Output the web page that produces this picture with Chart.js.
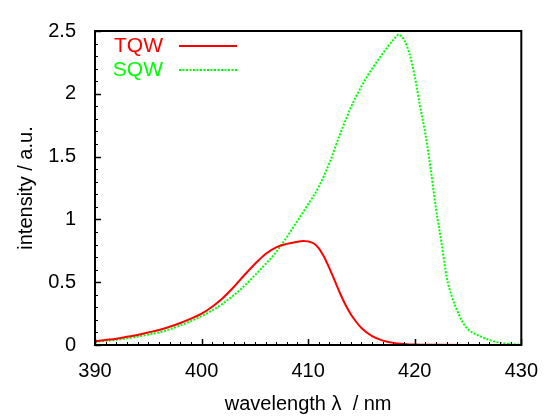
<!DOCTYPE html>
<html>
<head>
<meta charset="utf-8">
<script src="https://cdn.jsdelivr.net/npm/chart.js@4/dist/chart.umd.min.js"></script>
<style>
  html, body { margin: 0; padding: 0; background: #fff; }
  #wrap { width: 552px; height: 418px; }
</style>
</head>
<body>
<div id="wrap"><canvas id="spectrum"></canvas></div>
<script>
// wavelength (nm) and intensity
const tqwWavelength = [390, 391, 392, 393, 394, 395, 396, 397, 398, 399, 400, 401, 402, 403, 404, 405, 406, 407, 408, 409, 409.5, 410, 410.5, 411, 411.5, 412, 412.5, 413, 413.5, 414, 414.5, 415, 416, 417, 418, 419, 420, 422, 425, 430];
const tqwIntensity = [0.03, 0.04, 0.05, 0.065, 0.08, 0.10, 0.12, 0.145, 0.175, 0.21, 0.25, 0.305, 0.375, 0.46, 0.555, 0.645, 0.725, 0.778, 0.805, 0.822, 0.828, 0.825, 0.81, 0.77, 0.70, 0.61, 0.51, 0.41, 0.32, 0.245, 0.185, 0.135, 0.07, 0.035, 0.017, 0.008, 0.003, 0.001, 0, 0];

const sqwWavelength = [390, 391, 392, 393, 394, 395, 396, 397, 398, 399, 400, 401, 402, 403, 404, 405, 406, 407, 408, 409, 410, 411, 412, 413, 414, 415, 416, 417, 418, 418.5, 419, 419.5, 420, 420.5, 421, 421.5, 422, 422.5, 423, 423.5, 424, 424.5, 425, 426, 427, 428, 429, 430];
const sqwIntensity = [0.025, 0.033, 0.042, 0.053, 0.067, 0.083, 0.10, 0.125, 0.155, 0.19, 0.23, 0.275, 0.33, 0.395, 0.47, 0.555, 0.645, 0.74, 0.86, 0.99, 1.12, 1.26, 1.45, 1.68, 1.89, 2.06, 2.20, 2.32, 2.43, 2.47, 2.43, 2.32, 2.14, 1.90, 1.68, 1.40, 1.08, 0.82, 0.54, 0.38, 0.27, 0.18, 0.125, 0.075, 0.04, 0.018, 0.007, 0.002];

const xMin = 390, xMax = 430, xStep = 10, xMinor = 1;
const yMin = 0, yMax = 2.5, yStep = 0.5, yMinor = 0.1;

const FONT = 'Liberation Sans, Arial, sans-serif';

function toPoints(xs, ys) {
    return xs.map((x, i) => ({ x: x, y: ys[i] }));
}

// gnuplot style frame: box, inward major + minor ticks, key inside top-left
const framePlugin = {
    id: 'frame',
    afterDraw(chart) {
        const { ctx, chartArea: a, scales } = chart;
        ctx.save();
        ctx.strokeStyle = '#000';

        // minor ticks
        ctx.lineWidth = 1;
        ctx.beginPath();
        for (let v = xMin; v <= xMax + 1e-9; v += xMinor) {
            const px = Math.round(scales.x.getPixelForValue(v)) + 0.5;
            ctx.moveTo(px, a.bottom);
            ctx.lineTo(px, a.bottom - 3);
        }
        for (let v = yMin; v <= yMax + 1e-9; v += yMinor) {
            const py = Math.round(scales.y.getPixelForValue(v)) + 0.5;
            ctx.moveTo(a.left, py);
            ctx.lineTo(a.left + 3, py);
        }
        ctx.stroke();

        // major ticks
        ctx.lineWidth = 1.5;
        ctx.beginPath();
        scales.x.ticks.forEach(t => {
            const px = Math.round(scales.x.getPixelForValue(t.value)) + 0.5;
            ctx.moveTo(px, a.bottom);
            ctx.lineTo(px, a.bottom - 6);
        });
        scales.y.ticks.forEach(t => {
            const py = Math.round(scales.y.getPixelForValue(t.value)) + 0.5;
            ctx.moveTo(a.left, py);
            ctx.lineTo(a.left + 6, py);
        });
        ctx.stroke();

        ctx.lineWidth = 2;
        ctx.strokeRect(a.left, a.top, a.right - a.left, a.bottom - a.top);

        // key
        ctx.font = '21px ' + FONT;
        ctx.textAlign = 'right';
        ctx.textBaseline = 'middle';
        chart.data.datasets.forEach((ds, i) => {
            const y = a.top + 14 + i * 24;
            ctx.fillStyle = ds.borderColor;
            ctx.fillText(ds.label, a.left + 68, y + 1);
            ctx.strokeStyle = ds.borderColor;
            ctx.lineWidth = ds.borderWidth;
            ctx.setLineDash(ds.borderDash || []);
            ctx.beginPath();
            ctx.moveTo(a.left + 84, y + 1);
            ctx.lineTo(a.left + 142, y + 1);
            ctx.stroke();
            ctx.setLineDash([]);
        });
        ctx.restore();
    }
};

new Chart(document.getElementById('spectrum'), {
    type: 'line',
    data: {
        datasets: [{
            label: 'TQW',
            data: toPoints(tqwWavelength, tqwIntensity),
            borderColor: '#ff0000',
            borderWidth: 2,
            pointRadius: 0,
            cubicInterpolationMode: 'monotone',
            fill: false
        }, {
            label: 'SQW',
            data: toPoints(sqwWavelength, sqwIntensity),
            borderColor: '#00ff00',
            borderWidth: 2,
            borderDash: [2, 1.5],
            pointRadius: 0,
            cubicInterpolationMode: 'monotone',
            fill: false
        }]
    },
    options: {
        responsive: true,
        maintainAspectRatio: false,
        animation: false,
        events: [],
        layout: { padding: { top: 12, right: 25, left: 0, bottom: 0 } },
        plugins: {
            legend: { display: false },
            tooltip: { enabled: false }
        },
        scales: {
            x: {
                type: 'linear',
                min: xMin,
                max: xMax,
                afterFit(scale) { scale.height = 73; },
                grid: { display: false, drawTicks: false },
                border: { display: false },
                ticks: {
                    stepSize: xStep,
                    padding: 14,
                    color: '#000',
                    font: { family: FONT, size: 20 }
                },
                title: {
                    display: true,
                    text: 'wavelength λ  / nm',
                    color: '#000',
                    font: { family: FONT, size: 20 },
                    padding: { top: 0, bottom: 2 }
                }
            },
            y: {
                min: yMin,
                max: yMax,
                afterFit(scale) { scale.width = 95; },
                grid: { display: false, drawTicks: false },
                border: { display: false },
                ticks: {
                    stepSize: yStep,
                    padding: 19,
                    color: '#000',
                    font: { family: FONT, size: 20 },
                    callback: v => String(v)
                },
                title: {
                    display: true,
                    text: 'intensity / a.u.',
                    color: '#000',
                    font: { family: FONT, size: 20 },
                    padding: { top: 14, bottom: 0 }
                }
            }
        }
    },
    plugins: [framePlugin]
});
</script>
</body>
</html>
